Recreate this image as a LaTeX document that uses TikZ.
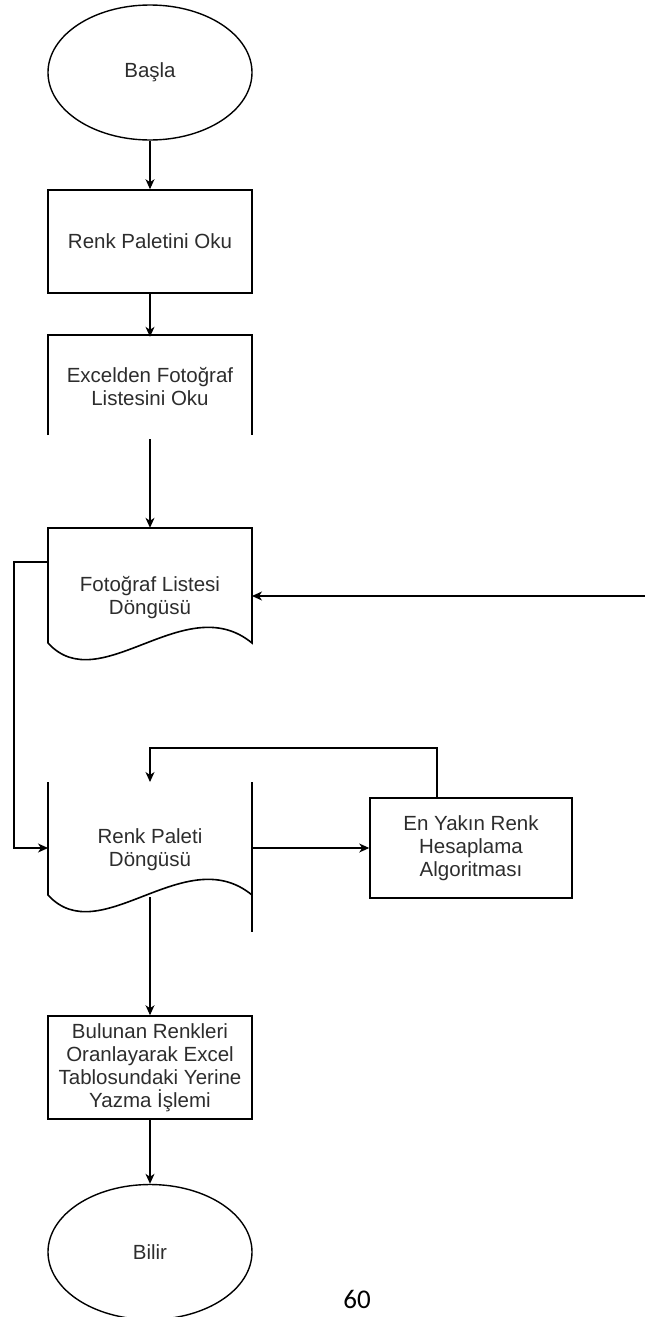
\documentclass[tikz,border=0pt]{standalone}
\usepackage{fontspec}
\setmainfont{Liberation Sans}
\newfontfamily\pagefont{Carlito}
\usetikzlibrary{shapes.geometric,arrows.meta}
\definecolor{ink}{RGB}{45,45,45}
\tikzset{
  lbl/.style={font=\fontsize{20.5}{23}\selectfont, text=ink, align=center, inner sep=0pt},
  terminal/.style={lbl, ellipse, draw=black, line width=1.4pt, minimum width=204pt, minimum height=135pt},
  procbox/.style={lbl, rectangle, draw=black, line width=1.6pt, minimum width=204pt},
  textarea/.style={lbl, rectangle, minimum width=204pt},
  outline/.style={draw=black, line width=1.6pt, line join=miter},
  conn/.style={draw=black, line width=1.1pt, -{Stealth[length=10pt,width=9pt,inset=3pt]}}
}
\begin{document}
\begin{tikzpicture}[x=1pt,y=-1pt]
\useasboundingbox (0,0) rectangle (645,1317);

% start / end terminals
\node[terminal] (start) at (150,72.5) {Başla};
\node[terminal] (stop) at (150,1252) {Bilir};

% simple process boxes
\node[procbox, minimum height=103pt] (palette) at (150,241.5) {Renk Paletini Oku};
\node[procbox, minimum height=103pt] (writeout) at (150,1067.5) {Bulunan Renkleri\\Oranlayarak Excel\\Tablosundaki Yerine\\Yazma İşlemi};
\node[procbox, minimum width=202pt, minimum height=100pt] (algo) at (471,848) {En Yakın Renk\\Hesaplama\\Algoritması};

% box that is open at the bottom
\node[textarea, minimum height=100pt] (excel) at (150,387) {Excelden Fotoğraf\\Listesini Oku};
\draw[outline] (48,435) -- (48,335) -- (252,335) -- (252,435);

% photo list loop (document shape)
\node[textarea, minimum height=140pt] (listloop) at (150,598) {Fotoğraf Listesi\\Döngüsü};
\draw[outline] (48,643) -- (48,528) -- (252,528) -- (252,643)
  .. controls (185,588) and (100,700) .. (48,643);

% colour palette loop (document shape without top edge)
\node[textarea, minimum height=132pt] (colorloop) at (150,850) {Renk Paleti\\Döngüsü};
\draw[outline] (48,782) -- (48,895) .. controls (100,952) and (185,840) .. (252,895);
\draw[outline] (252,782) -- (252,932);

% auxiliary points
\coordinate (listOut) at (48,562);
\coordinate (bendL) at (14,848);
\coordinate (rightIn) at (645,596);
\coordinate (listIn) at (252,596);
\coordinate (colorIn) at (48,848);
\coordinate (colorOut) at (252,848);
\coordinate (colorTop) at (150,782);
\coordinate (waveB) at (150,897);
\coordinate (algoTop) at (437,798);
\coordinate (fbBend) at (437,748);

% connectors
\draw[conn] (start.south) -- (palette.north);
\draw[conn] (palette.south) -- (excel.north);
\draw[conn] ([yshift=-2pt]excel.south) -- (listloop.north);
\draw[conn] (rightIn) -- (listIn);
\draw[conn] (listOut) -| (bendL) -- (colorIn);
\draw[conn] (colorOut) -- (algo.west);
\draw[conn] (algoTop) -- (fbBend) -| (colorTop);
\draw[conn] (waveB) -- (writeout.north);
\draw[conn] (writeout.south) -- (stop.north);

% page number
\node[font=\pagefont\fontsize{27}{30}\selectfont, inner sep=0pt] (pagenum) at (357,1299) {60};
\end{tikzpicture}
\end{document}
